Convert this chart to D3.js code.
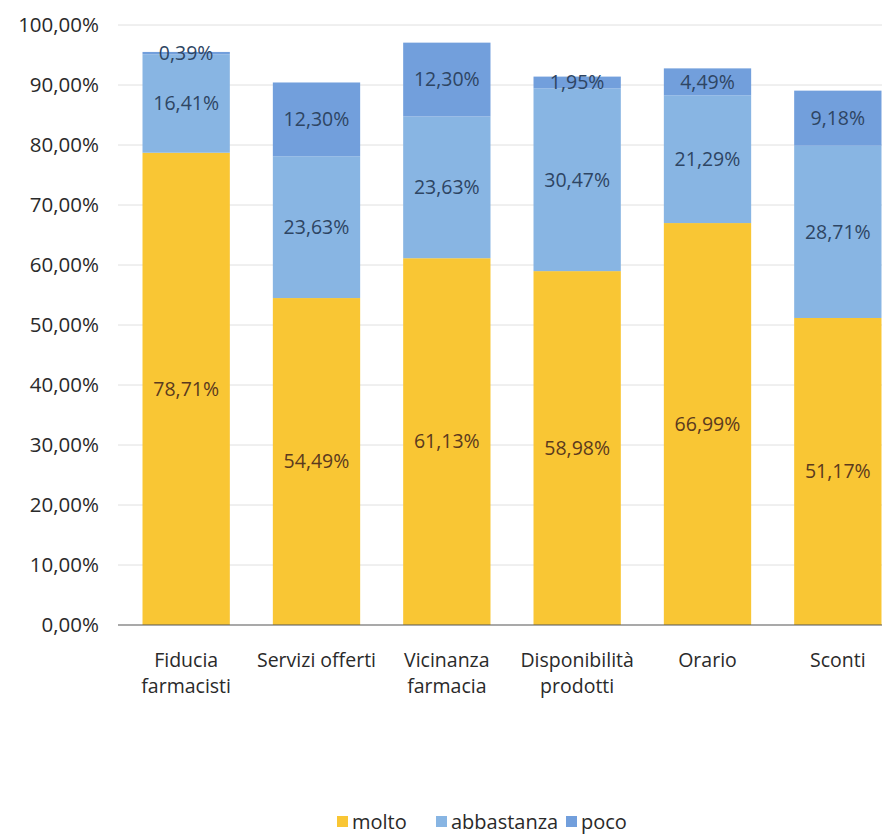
<!DOCTYPE html>
<html>
<head>
<meta charset="utf-8">
<script src="https://cdn.jsdelivr.net/npm/d3@7"></script>
<style>
  body { margin: 0; background: #fff; }
  svg { font-family: "Open Sans", sans-serif; }
</style>
</head>
<body>
<svg></svg>
<script>
var categories = [["Fiducia", "farmacisti"], ["Servizi offerti"], ["Vicinanza", "farmacia"],
                  ["Disponibilità", "prodotti"], ["Orario"], ["Sconti"]];
var molto = [78.71, 54.49, 61.13, 58.98, 66.99, 51.17];
var abbastanza = [16.41, 23.63, 23.63, 30.47, 21.29, 28.71];
var poco = [0.39, 12.30, 12.30, 1.95, 4.49, 9.18];
var seriesNames = ["molto", "abbastanza", "poco"];
var yTicks = [0, 10, 20, 30, 40, 50, 60, 70, 80, 90, 100];

var svgWidth = 882, svgHeight = 835;
var colors = {molto: "#F9C634", abbastanza: "#88B5E3", poco: "#729FDC"};
var labelColors = {molto: "#5b3a1e", abbastanza: "#2e4563", poco: "#2e4563"};

var svg = d3.select("svg")
    .attr("width", svgWidth)
    .attr("height", svgHeight);

var y = d3.scaleLinear().domain([0, 100]).range([625, 25]);
var x = d3.scaleBand()
    .domain(d3.range(categories.length))
    .range([121, 903])
    .paddingInner(0.33)
    .paddingOuter(0.165);

// table built from the arrays
var rows = categories.map(function(c, i) {
    return {i: i, molto: molto[i], abbastanza: abbastanza[i], poco: poco[i]};
});
var stack = d3.stack().keys(seriesNames)(rows);
var pct = function(v){ return d3.format(".2f")(v).replace(".", ",") + "%"; };

// gridlines
svg.append("g")
    .selectAll("line")
    .data(yTicks.slice(1))
    .enter()
    .append("line")
    .attr("x1", 118).attr("x2", 882)
    .attr("y1", function(d){ return y(d); })
    .attr("y2", function(d){ return y(d); })
    .attr("stroke", "#e0e0e0")
    .attr("stroke-width", 1);

// y axis labels
var yAxis = d3.axisLeft(y)
    .tickValues(yTicks)
    .tickSize(0)
    .tickPadding(0)
    .tickFormat(pct);
var gy = svg.append("g").attr("transform", "translate(99,0)").call(yAxis);
gy.select(".domain").remove();
gy.selectAll("text")
    .attr("font-size", 20.5)
    .attr("font-family", "Open Sans, sans-serif")
    .attr("fill", "#2a2a2a");

// bars
var layers = svg.selectAll("g.layer")
    .data(stack)
    .enter()
    .append("g")
    .attr("class", "layer")
    .attr("fill", function(d){ return colors[d.key]; });

layers.selectAll("rect")
    .data(function(d){ return d; })
    .enter()
    .append("rect")
    .attr("x", function(d){ return x(d.data.i); })
    .attr("width", x.bandwidth())
    .attr("y", function(d){ return y(d[1]); })
    .attr("height", function(d){ return y(d[0]) - y(d[1]); });

// data labels
layers.selectAll("text")
    .data(function(d){ return d.map(function(p){ p.key = d.key; return p; }); })
    .enter()
    .append("text")
    .attr("x", function(d){ return x(d.data.i) + x.bandwidth() / 2; })
    .attr("y", function(d){ return y((d[0] + d[1]) / 2); })
    .attr("dy", "0.35em")
    .attr("text-anchor", "middle")
    .attr("font-size", 19.5)
    .attr("fill", function(d){ return labelColors[d.key]; })
    .text(function(d){ return pct(d[1] - d[0]); });

// baseline
svg.append("line")
    .attr("x1", 118).attr("x2", 882)
    .attr("y1", y(0)).attr("y2", y(0))
    .attr("stroke", "#555")
    .attr("stroke-width", 1.2);

// category labels
var xl = svg.append("g").selectAll("text")
    .data(categories)
    .enter()
    .append("text")
    .attr("x", function(d, i){ return x(i) + x.bandwidth() / 2; })
    .attr("y", 667)
    .attr("text-anchor", "middle")
    .attr("font-size", 19.5)
    .attr("fill", "#2a2a2a");
xl.selectAll("tspan")
    .data(function(d){ return d; })
    .enter()
    .append("tspan")
    .attr("x", function(){ return d3.select(this.parentNode).attr("x"); })
    .attr("dy", function(d, j){ return j === 0 ? 0 : 26; })
    .text(function(d){ return d; });

// legend
var legendX = [337, 436, 566];
var legend = svg.append("g").selectAll("g")
    .data(seriesNames)
    .enter()
    .append("g")
    .attr("transform", function(d, i){ return "translate(" + legendX[i] + ",822)"; });
legend.append("rect")
    .attr("x", 0).attr("y", -6)
    .attr("width", 11).attr("height", 11)
    .attr("fill", function(d){ return colors[d]; });
legend.append("text")
    .attr("x", 15)
    .attr("y", 0)
    .attr("dy", "0.35em")
    .attr("font-size", 20)
    .attr("fill", "#2a2a2a")
    .text(function(d){ return d; });
</script>
</body>
</html>
